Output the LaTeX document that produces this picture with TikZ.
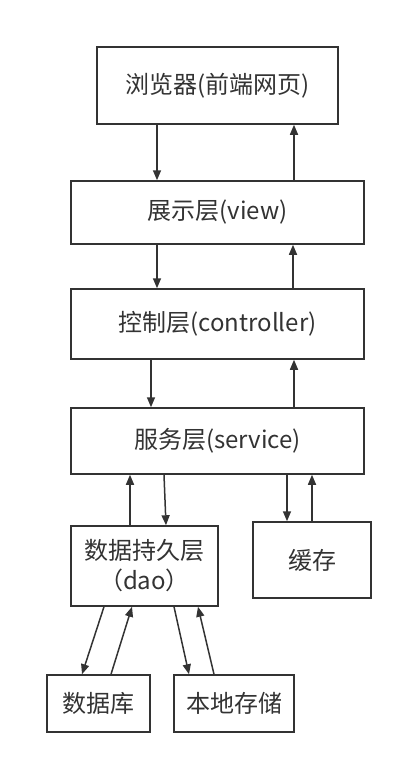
\documentclass[tikz,border=0pt]{standalone}
\usepackage{fontspec}
\setmainfont{Noto Sans CJK SC}
\usetikzlibrary{arrows.meta}
\definecolor{ink}{HTML}{333333}
\begin{document}
\begin{tikzpicture}[x=1pt,y=-1pt,
  box/.style={draw=ink,line width=1.5pt,fill=white,text=ink,inner sep=0pt,font=\fontsize{24}{30}\selectfont,align=center},
  arr/.style={draw=ink,line width=1.5pt,-{Triangle[length=10pt,width=8pt]}}]
\useasboundingbox (0,0) rectangle (403,763);
\node[box,minimum width=241pt,minimum height=77pt] (browser) at (217.5,85.5) {浏览器(前端网页)};
\node[box,minimum width=293pt,minimum height=63pt] (view) at (217.5,212.5) {展示层(view)};
\node[box,minimum width=293pt,minimum height=70pt] (ctrl) at (217.5,324) {控制层(controller)};
\node[box,minimum width=293pt,minimum height=66pt] (svc) at (217.5,441) {服务层(service)};
\node[box,minimum width=147pt,minimum height=80pt] (dao) at (144.5,566) {数据持久层\\（dao）};
\node[box,minimum width=118pt,minimum height=76pt] (cache) at (312,560) {缓存};
\node[box,minimum width=103pt,minimum height=57pt] (db) at (98.5,703.5) {数据库};
\node[box,minimum width=120pt,minimum height=57pt] (local) at (234,703.5) {本地存储};
% browser <-> view
\draw[arr] (browser.south -| 157,0) -- (view.north -| 157,0);
\draw[arr] (view.north -| 294,0) -- (browser.south -| 294,0);
% view <-> controller
\draw[arr] (view.south -| 157,0) -- (ctrl.north -| 157,0);
\draw[arr] (ctrl.north -| 293,0) -- (view.south -| 293,0);
% controller <-> service
\draw[arr] (ctrl.south -| 151,0) -- (svc.north -| 151,0);
\draw[arr] (svc.north -| 294,0) -- (ctrl.south -| 294,0);
% service <-> dao
\draw[arr] (dao.north -| 130,0) -- (svc.south -| 130,0);
\draw[arr] (svc.south -| 164,0) -- (dao.north -| 166,0);
% service <-> cache
\draw[arr] (svc.south -| 287,0) -- (cache.north -| 287,0);
\draw[arr] (cache.north -| 312,0) -- (svc.south -| 312,0);
% dao <-> db
\draw[arr] (dao.south -| 104,0) -- (db.north -| 82,0);
\draw[arr] (db.north -| 111,0) -- (dao.south -| 132,0);
% dao <-> local
\draw[arr] (dao.south -| 174,0) -- (local.north -| 189,0);
\draw[arr] (local.north -| 214,0) -- (dao.south -| 198,0);
\end{tikzpicture}
\end{document}
